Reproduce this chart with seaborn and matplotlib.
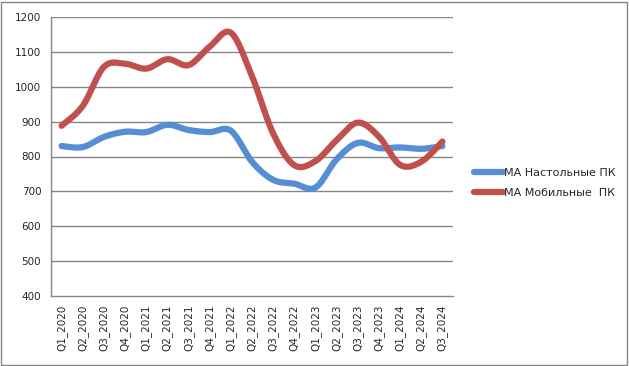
import numpy as np
import pandas as pd
import matplotlib
matplotlib.use("Agg")
import matplotlib.pyplot as plt
import seaborn as sns
from matplotlib.lines import Line2D
from matplotlib.patches import Rectangle

categories = ["Q1_2020", "Q2_2020", "Q3_2020", "Q4_2020", "Q1_2021", "Q2_2021",
              "Q3_2021", "Q4_2021", "Q1_2022", "Q2_2022", "Q3_2022", "Q4_2022",
              "Q1_2023", "Q2_2023", "Q3_2023", "Q4_2023", "Q1_2024", "Q2_2024",
              "Q3_2024"]
desktop = [830, 827, 856, 871, 870, 891, 876, 870, 874, 785, 733, 722,
           711, 792, 839, 824, 826, 822, 830]
mobile = [888, 945, 1057, 1066, 1052, 1079, 1062, 1115, 1155, 1030, 866, 775,
          787, 847, 897, 857, 776, 785, 843]
series_names = ["MA Настольные ПК", "MA Мобильные  ПК"]
colors = ["#558ED5", "#C0504D"]
yticks = [400, 500, 600, 700, 800, 900, 1000, 1100, 1200]


def smooth(xs, ys, n=30):
    P = np.column_stack([xs, ys]).astype(float)
    P = np.vstack([P[0], P, P[-1]])
    out = []
    for i in range(1, len(P) - 2):
        p0, p1, p2, p3 = P[i - 1], P[i], P[i + 1], P[i + 2]
        c1 = p1 + (p2 - p0) / 6.0
        c2 = p2 - (p3 - p1) / 6.0
        t = np.linspace(0, 1, n, endpoint=(i == len(P) - 3))[:, None]
        seg = ((1 - t) ** 3) * p1 + 3 * ((1 - t) ** 2) * t * c1 + 3 * (1 - t) * t ** 2 * c2 + t ** 3 * p2
        out.append(seg)
    out = np.vstack(out)
    return out[:, 0], out[:, 1]


frames = []
for name, vals in zip(series_names, [desktop, mobile]):
    sx, sy = smooth(np.arange(len(categories)), vals)
    frames.append(pd.DataFrame({"x": sx, "y": sy, "series": name}))
df = pd.concat(frames, ignore_index=True)

sns.set_style("white")
plt.rcParams["font.family"] = ["DejaVu Sans"]

fig = plt.figure(figsize=(6.29, 3.66), dpi=100)
ax = fig.add_axes([51 / 629, (366 - 296) / 366, (453 - 51) / 629, (296 - 17) / 366])

grid_c = "#868686"
for v in yticks[1:]:
    ax.axhline(v, color=grid_c, lw=1.0, zorder=1)

lw = 4.5
sns.lineplot(data=df, x="x", y="y", hue="series", palette=colors, sort=False,
             estimator=None, lw=lw, ax=ax, legend=False, zorder=3)
for l in ax.lines:
    l.set_solid_capstyle("round")
    l.set_solid_joinstyle("round")

ax.set_xlim(-0.5, len(categories) - 0.5)
ax.set_ylim(400, 1200)
ax.set_yticks(yticks)
ax.set_yticklabels([str(v) for v in yticks], fontsize=7.5)
ax.set_xticks(np.arange(len(categories)))
ax.set_xticklabels(categories, rotation=90, fontsize=7.5)
ax.set_xticks(np.arange(len(categories) + 1) - 0.5, minor=True)
ax.tick_params(axis="x", which="major", length=0, pad=6)
ax.tick_params(axis="x", which="minor", length=4, color=grid_c, width=1, direction="out")
ax.tick_params(axis="y", length=4, color=grid_c, width=1, direction="out", pad=3)
ax.set_xlabel("")
ax.set_ylabel("")
for s in ["top", "right"]:
    ax.spines[s].set_visible(False)
for s in ["left", "bottom"]:
    ax.spines[s].set_color(grid_c)
    ax.spines[s].set_linewidth(1.0)

handles = [Line2D([0], [0], color=c, lw=lw, solid_capstyle="round") for c in colors]
fig.legend(handles, series_names, loc="center left", bbox_to_anchor=(464 / 629, 1 - 183 / 366),
           frameon=False, fontsize=8, handlelength=2.6, handletextpad=0.1, labelspacing=0.95)

fig.patches.append(Rectangle((1 / 629, 1 / 366), 626 / 629, 363 / 366, transform=fig.transFigure,
                             fill=False, edgecolor=grid_c, lw=1.0))

fig.savefig("out.png", dpi=100)
